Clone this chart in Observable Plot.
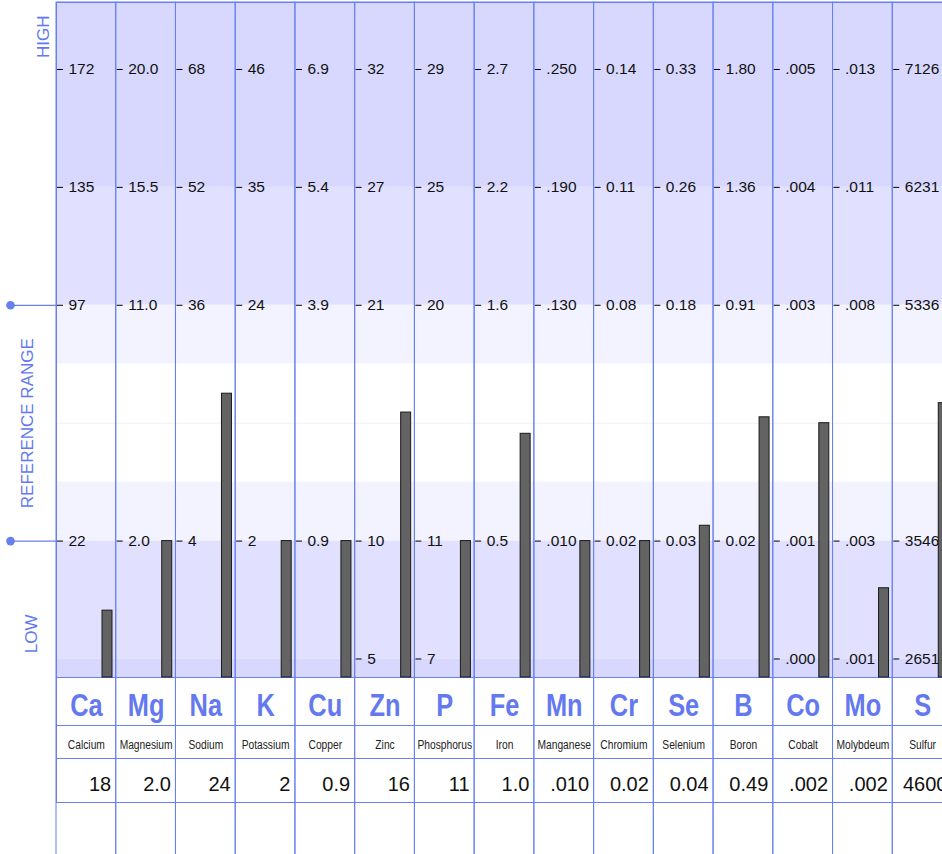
<!DOCTYPE html>
<html>
<head>
<meta charset="utf-8">
<script src="https://cdn.jsdelivr.net/npm/d3@7"></script>
<script src="https://cdn.jsdelivr.net/npm/@observablehq/plot@0.6"></script>
<style>
  html, body { margin: 0; padding: 0; background: #fff; overflow: hidden; }
  #chart svg { display: block; }
</style>
</head>
<body>
<div id="chart"></div>
<script>
// ---- data ----
const elements = ["Ca","Mg","Na","K","Cu","Zn","P","Fe","Mn","Cr","Se","B","Co","Mo","S"];
const names = ["Calcium","Magnesium","Sodium","Potassium","Copper","Zinc","Phosphorus","Iron","Manganese","Chromium","Selenium","Boron","Cobalt","Molybdeum","Sulfur"];
const results = ["18","2.0","24","2","0.9","16","11","1.0",".010","0.02","0.04","0.49",".002",".002","4600"];
// bar heights on the chart's normalized scale (1 = low reference, 3 = high reference)
const barLevel = [0.41, 1.0, 2.25, 1.0, 1.0, 2.09, 1.0, 1.91, 1.0, 1.0, 1.13, 2.05, 2.0, 0.6, 2.17];
// tick labels per level
const ticksLevel5 = ["172","20.0","68","46","6.9","32","29","2.7",".250","0.14","0.33","1.80",".005",".013","7126"];
const ticksLevel4 = ["135","15.5","52","35","5.4","27","25","2.2",".190","0.11","0.26","1.36",".004",".011","6231"];
const ticksLevel3 = ["97","11.0","36","24","3.9","21","20","1.6",".130","0.08","0.18","0.91",".003",".008","5336"];
const ticksLevel1 = ["22","2.0","4","2","0.9","10","11","0.5",".010","0.02","0.03","0.02",".001",".003","3546"];
const ticksLevel0 = ["","","","","","5","7","","","","","",".000",".001","2651"];
const refLow = 1, refHigh = 3;
const yMin = -0.157, yMax = 5.568;
// background zone boundaries (top to bottom) on the normalized scale
const zoneBounds = [yMax, 4, 3, 2.5, 1.5, 1, 0, yMin];
const zoneFills = ["#d8d8ff", "#e1e1ff", "#f3f3ff", "#ffffff", "#f3f3ff", "#e1e1ff", "#d8d8ff"];

// ---- build tables ----
const tickRows = [];
[[5, ticksLevel5], [4, ticksLevel4], [3, ticksLevel3], [1, ticksLevel1], [0, ticksLevel0]].forEach(([lv, arr]) => {
  arr.forEach((t, i) => { if (t !== "") tickRows.push({el: elements[i], level: lv, label: t}); });
});
const bars = elements.map((el, i) => ({el, level: barLevel[i], name: names[i], result: results[i]}));
const zones = zoneFills.map((f, i) => ({y1: zoneBounds[i + 1], y2: zoneBounds[i], fill: f}));

const W = 942, H = 854;
const mL = 56, mR = -10, mT = 2, mB = 177;
const bw = (W - mL - mR) / elements.length;
const blue = "#6680ee";
const textBlue = "#6479ef";
const sans = "'Liberation Sans', Arial, Helvetica, sans-serif";

const plot = Plot.plot({
  width: W,
  height: H,
  marginLeft: mL,
  marginRight: mR,
  marginTop: mT,
  marginBottom: mB,
  style: {fontFamily: sans, background: "#fff"},
  x: {type: "band", domain: elements, range: [mL, W - mR], padding: 0, round: false, axis: null},
  y: {domain: [yMin, yMax], axis: null},
  marks: [
    Plot.rect(zones, {y1: "y1", y2: "y2", fill: "fill"}),
    Plot.ruleY([(refLow + refHigh) / 2], {stroke: "#efeffc", strokeWidth: 1}),
    // column grid, extended through the table below
    Plot.cell(elements, {x: d => d, fill: "none", stroke: blue, strokeWidth: 1, insetBottom: -(mB + 2)}),
    // horizontal table lines
    Plot.frame({stroke: blue, strokeWidth: 1}),
    Plot.frame({stroke: blue, strokeWidth: 1, insetBottom: -48}),
    Plot.frame({stroke: blue, strokeWidth: 1, insetBottom: -81}),
    Plot.frame({stroke: blue, strokeWidth: 1, insetBottom: -125}),
    // ticks and tick labels
    Plot.tickY(tickRows, {x: "el", y: "level", stroke: "#000", strokeWidth: 1, insetLeft: 1, insetRight: bw - 7}),
    Plot.text(tickRows, {x: "el", y: "level", text: "label", textAnchor: "start", dx: -bw / 2 + 12, fontSize: 15.5, fill: "#111"}),
    // bars
    Plot.barY(bars, {x: "el", y1: yMin, y2: "level", fill: "#636363", stroke: "#1a1a1a", strokeWidth: 1, insetLeft: 46, insetRight: bw - 56}),
    // reference range markers on the left
    Plot.ruleY([refLow, refHigh], {stroke: blue, strokeWidth: 1.2, insetLeft: -46, insetRight: W - mL - mR}),
    Plot.dot([refLow, refHigh], {y: d => d, frameAnchor: "left", dx: -46, r: 4.3, fill: blue, stroke: "none"}),
    // side labels
    Plot.text(["HIGH"], {frameAnchor: "top-left", text: d => d, rotate: -90, textAnchor: "end", dx: -19.3, dy: 13, fontSize: 17, fill: textBlue}),
    Plot.text(["REFERENCE RANGE"], {y: (refLow + refHigh) / 2, frameAnchor: "left", text: d => d, rotate: -90, textAnchor: "middle", dx: -28.5, fontSize: 17, fill: textBlue}),
    Plot.text(["LOW"], {frameAnchor: "bottom-left", text: d => d, rotate: -90, textAnchor: "start", dx: -19.3, dy: -24.3, fontSize: 17, fill: textBlue}),
    // table rows
    Plot.text(bars, {x: "el", frameAnchor: "bottom", text: "el", lineAnchor: "bottom", dy: 38, fontSize: 31, fontWeight: "bold", fill: textBlue}),
    Plot.text(bars, {x: "el", frameAnchor: "bottom", text: "name", lineAnchor: "bottom", dy: 71, fontSize: 12.5, fill: "#222"}),
    Plot.text(bars, {x: "el", frameAnchor: "bottom", text: "result", lineAnchor: "bottom", textAnchor: "end", dx: bw / 2 - 5, dy: 113, fontSize: 20, fill: "#111"})
  ]
});
// condense the symbol and name rows (narrow face not installed): text marks 4 and 5
const textGroups = plot.querySelectorAll('g[aria-label="text"]');
[4, 5].forEach(k => {
  const g = textGroups[k];
  if (!g) return;
  g.querySelectorAll("text").forEach(t => {
    const tr = t.getAttribute("transform") || "";
    t.setAttribute("transform", tr + " scale(0.82,1)");
  });
});
document.getElementById("chart").appendChild(plot);
</script>
</body>
</html>
